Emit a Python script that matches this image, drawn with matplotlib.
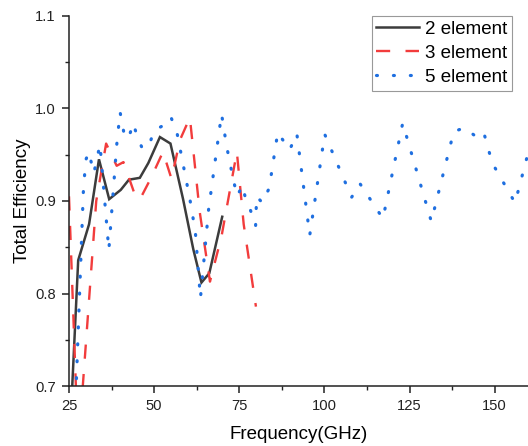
import matplotlib
matplotlib.use("Agg")
import matplotlib.pyplot as plt

# ---- data ----
f2 = [25.5, 27.7, 30.9, 33.8, 36.8, 40.2, 42.6, 45.8, 48.3, 51.7, 54.8, 58.5, 61.5, 63.9, 66.2, 70.0]
e2 = [0.665, 0.836, 0.875, 0.945, 0.902, 0.912, 0.923, 0.925, 0.941, 0.969, 0.962, 0.902, 0.848, 0.812, 0.822, 0.883]

f3 = [25.0, 27.7, 33.0, 35.9, 39.0, 41.0, 44.7, 46.0, 49.1, 52.6, 55.1, 57.6, 60.5, 63.4, 66.4, 69.8, 74.3, 76.3, 79.9]
e3 = [0.905, 0.632, 0.900, 0.962, 0.938, 0.942, 0.903, 0.903, 0.925, 0.953, 0.924, 0.966, 0.990, 0.888, 0.813, 0.862, 0.953, 0.875, 0.786]

f5 = [27.0, 29.2, 29.9, 30.8, 32.3, 34.1, 36.7, 39.0, 40.0, 41.2, 42.4, 43.9, 44.9, 46.6, 48.6, 50.0,
      52.9, 54.9, 56.8, 60.5, 62.1, 63.6, 66.0, 69.8, 71.3, 73.2, 74.4, 75.9, 77.1, 78.3, 79.8, 80.1,
      81.8, 83.8, 86.3, 89.8, 91.9, 95.7, 100.1, 108.0, 110.4, 117.2, 123.0, 131.4, 138.0, 141.2,
      144.7, 146.8, 149.3, 156.0, 159.7, 161.0]
e5 = [0.690, 0.909, 0.944, 0.953, 0.930, 0.961, 0.847, 0.960, 0.996, 0.972, 0.967, 0.984, 0.971, 0.956, 0.961, 0.976,
      0.982, 0.991, 0.972, 0.902, 0.867, 0.795, 0.891, 0.994, 0.959, 0.924, 0.905, 0.917, 0.899, 0.890, 0.873, 0.905,
      0.898, 0.914, 0.974, 0.955, 0.973, 0.863, 0.972, 0.904, 0.919, 0.881, 0.984, 0.878, 0.975, 0.979,
      0.969, 0.974, 0.941, 0.898, 0.950, 0.972]

labels = ["2 element", "3 element", "5 element"]
xticks = [25, 50, 75, 100, 125, 150]
yticks = [0.7, 0.8, 0.9, 1.0, 1.1]

# ---- figure ----
plt.rcParams['font.family'] = ['Liberation Sans', 'DejaVu Sans']
fig = plt.figure(figsize=(5.28, 4.46), dpi=100)
ax = fig.add_axes([69/528, (446-386.3)/446, 1 - 69/528, (386.3-15.7)/446])

ax.plot(f2, e2, color='#3c3c3c', lw=1.8, label=labels[0], solid_joinstyle='miter')
ax.plot(f3, e3, color='#f23c3c', lw=1.7, linestyle=(0, (6, 6.5)), label=labels[1])
ax.plot(f5, e5, color='#1f6fe0', lw=2.3, linestyle=(0, (0.3, 5.0)),
        dash_capstyle='round', label=labels[2])

ax.set_xlim(25, 159.8)
ax.set_ylim(0.7, 1.1)
ax.set_xticks(xticks)
ax.set_xticks([37.5, 62.5, 87.5, 112.5, 137.5], minor=True)
ax.set_yticks(yticks)
ax.set_yticks([0.75, 0.85, 0.95, 1.05], minor=True)
ax.set_yticklabels([f"{v:.1f}" for v in yticks])

for s in ['top', 'right']:
    ax.spines[s].set_visible(False)
for s in ['left', 'bottom']:
    ax.spines[s].set_linewidth(1.1)
    ax.spines[s].set_color('#222222')

ax.tick_params(which='major', direction='out', length=5, width=1.1, labelsize=10.6,
               colors='#222222', pad=4.5)
ax.tick_params(which='minor', direction='out', length=3, width=1.0, colors='#222222')

ax.set_xlabel("Frequency(GHz)", fontsize=13.5, labelpad=9)
ax.set_ylabel("Total Efficiency", fontsize=13.5, labelpad=3)

leg = ax.legend(loc='upper right', bbox_to_anchor=(0.965, 1.0), borderaxespad=0,
                fontsize=13.5, frameon=True, fancybox=False, framealpha=1,
                edgecolor='#999999', handlelength=2.3, handletextpad=0.3,
                borderpad=0.25, labelspacing=0.38)
leg.get_frame().set_linewidth(0.8)

fig.savefig("out.png", dpi=100)
